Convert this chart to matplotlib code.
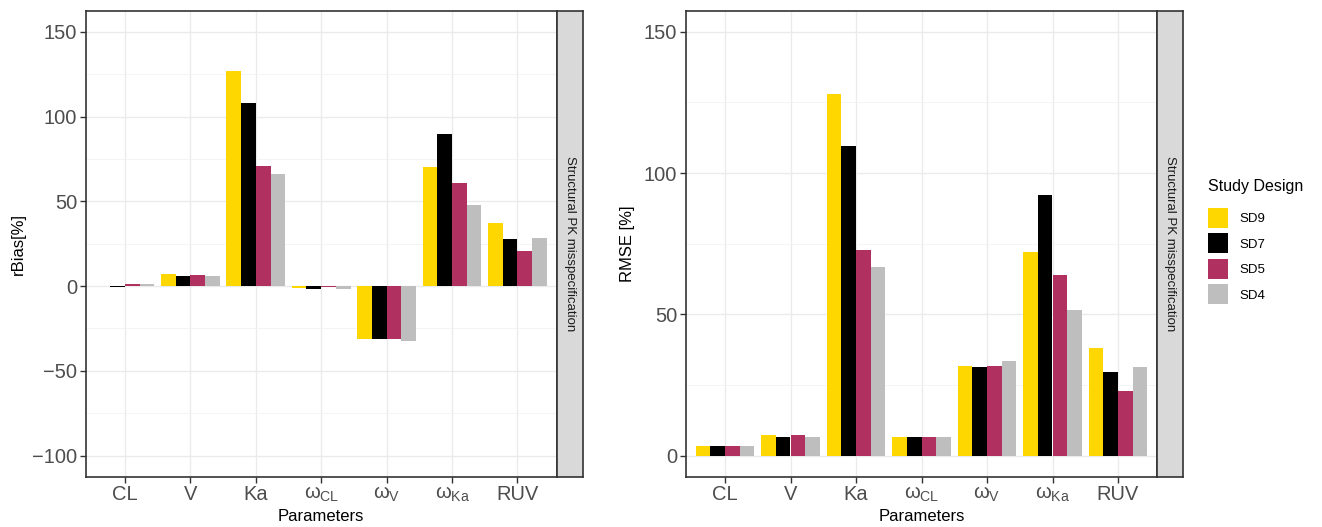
import numpy as np
import matplotlib
matplotlib.use('Agg')
import matplotlib.pyplot as plt
from matplotlib.patches import Patch
from matplotlib.ticker import MultipleLocator

plt.rcParams['font.family'] = ['Liberation Sans', 'DejaVu Sans']
plt.rcParams['mathtext.fontset'] = 'custom'
plt.rcParams['mathtext.rm'] = 'Liberation Sans'
plt.rcParams['mathtext.it'] = 'Liberation Sans'
plt.rcParams['mathtext.bf'] = 'Liberation Sans:bold'

# data
params = [r'CL', r'V', r'Ka', r'$\omega_{\mathrm{CL}}$', r'$\omega_{\mathrm{V}}$',
          r'$\omega_{\mathrm{Ka}}$', r'RUV']
designs = ['SD9', 'SD7', 'SD5', 'SD4']
colors = ['#FFD700', '#000000', '#B03060', '#BEBEBE']

rbias_sd9 = [0.3, 7.1, 127.0, -1.2, -31.0, 70.0, 37.0]
rbias_sd7 = [-0.3, 5.9, 108.0, -1.8, -31.0, 90.0, 27.6]
rbias_sd5 = [1.0, 6.5, 71.0, -0.8, -31.0, 61.0, 20.6]
rbias_sd4 = [1.0, 6.0, 66.0, -1.8, -32.7, 47.6, 28.2]

rmse_sd9 = [3.2, 7.4, 128.0, 6.7, 31.6, 71.9, 37.9]
rmse_sd7 = [3.2, 6.7, 109.6, 6.7, 31.2, 92.4, 29.4]
rmse_sd5 = [3.2, 7.1, 72.6, 6.4, 31.6, 63.8, 23.0]
rmse_sd4 = [3.2, 6.7, 66.9, 6.7, 33.3, 51.4, 31.2]

rbias = [rbias_sd9, rbias_sd7, rbias_sd5, rbias_sd4]
rmse = [rmse_sd9, rmse_sd7, rmse_sd5, rmse_sd4]

strip_text = 'Structural PK misspecification'

W, H = 1322, 527
fig = plt.figure(figsize=(W / 100, H / 100), dpi=100)


def px(x0, y0, x1, y1):
    # pixel box (top-left origin) -> figure fraction rect
    return [x0 / W, 1 - y1 / H, (x1 - x0) / W, (y1 - y0) / H]


def panel(rect, strip_rect, series, ylim, yticks, ylabel, ylabel_x):
    ax = fig.add_axes(rect)
    x = np.arange(len(params))
    bw = 0.9 / len(designs)
    for k in range(len(designs)):
        off = (k - (len(designs) - 1) / 2) * bw
        ax.bar(x + off, series[k], width=bw, color=colors[k], linewidth=0, zorder=3)
    ax.set_xlim(-0.6, len(params) - 0.4)
    ax.set_ylim(*ylim)
    ax.set_yticks(yticks)
    ax.yaxis.set_minor_locator(MultipleLocator(25))
    ax.set_xticks(x)
    ax.set_xticklabels(params)
    ax.grid(which='major', color='#EBEBEB', linewidth=1.0, zorder=0)
    ax.grid(which='minor', axis='y', color='#F2F2F2', linewidth=0.6, zorder=0)
    ax.set_axisbelow(True)
    ax.tick_params(axis='both', which='major', labelsize=14.5, labelcolor='#4D4D4D',
                   color='#333333', length=4, width=1.0, pad=2)
    ax.tick_params(axis='y', which='minor', length=0)
    for s in ax.spines.values():
        s.set_color('#333333')
        s.set_linewidth(1.2)
    ax.set_ylabel(ylabel, fontsize=12, color='black')
    ax.yaxis.set_label_coords(ylabel_x, 0.5)
    ax.set_xlabel('Parameters', fontsize=12, color='black')
    ax.xaxis.set_label_coords(0.5, -0.069)

    sax = fig.add_axes(strip_rect)
    sax.set_facecolor('#D9D9D9')
    sax.set_xticks([])
    sax.set_yticks([])
    for s in sax.spines.values():
        s.set_color('#333333')
        s.set_linewidth(1.2)
    sax.text(0.5, 0.5, strip_text, rotation=270, ha='center', va='center',
             fontsize=9.5, color='#1A1A1A', transform=sax.transAxes)
    return ax


ax1 = panel(px(85.7, 10.7, 556.7, 476.7), px(556.7, 10.7, 583.3, 476.7),
            rbias, (-112.5, 162.5), [-100, -50, 0, 50, 100, 150], 'rBias[%]', -0.127)
ax2 = panel(px(685.7, 10.7, 1157.3, 476.7), px(1157.3, 10.7, 1183.3, 476.7),
            rmse, (-7.5, 157.5), [0, 50, 100, 150], 'RMSE [%]', -0.1075)

handles = [Patch(facecolor=c, edgecolor='none') for c in colors]
leg = fig.legend(handles, designs, title='Study Design', loc='upper left',
                 bbox_to_anchor=(1208 / W, 1 - 179 / H), frameon=False,
                 fontsize=9.5, title_fontsize=11.5, handlelength=1.5, handleheight=1.95,
                 labelspacing=0.42, handletextpad=0.85, borderpad=0, borderaxespad=0,
                 alignment='left')
# a bit more room between legend title and keys, like the ggplot guide
leg._legend_box.sep = 10

fig.savefig('out.png', dpi=100)
